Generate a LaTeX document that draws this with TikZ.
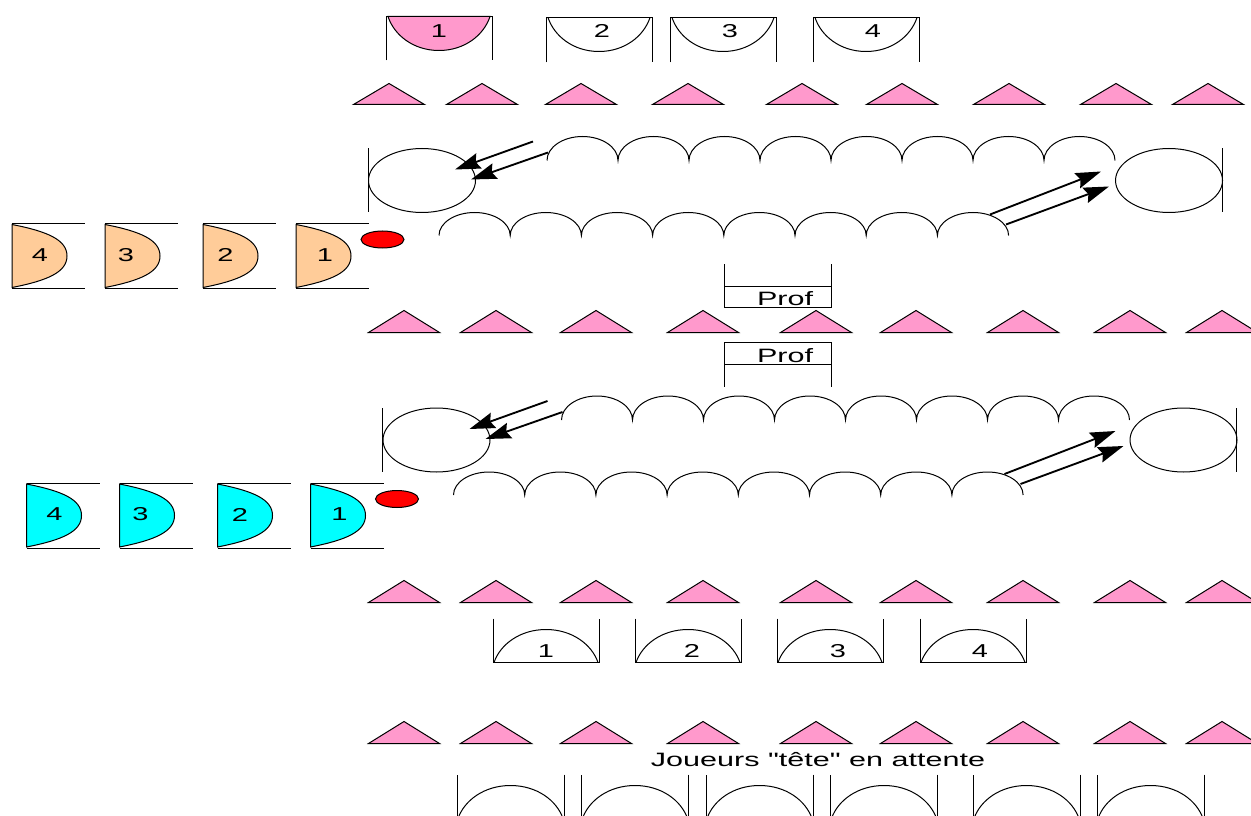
\documentclass[tikz,border=0pt]{standalone}
\usepackage{fontspec}
\newfontfamily\labelfont{Liberation Sans}
\usetikzlibrary{arrows.meta}
\definecolor{mpink}{RGB}{255,153,204}
\definecolor{morange}{RGB}{255,204,153}
\definecolor{mcyan}{RGB}{0,255,255}
\begin{document}
\begin{tikzpicture}[x=.75pt, y=-.75pt, line width=.75pt,
    cone/.style={draw, fill=mpink},
    seat/.style={draw},
    bowl/.style 2 args={insert path={.. controls +(.12*#1,.55*#2) and +(-.5*#1,0) .. ++(#1,#2) .. controls +(.5*#1,0) and +(-.12*#1,.55*#2) .. ++(#1,-#2)}},
    digit/.style={font=\labelfont\fontsize{14}{16}\selectfont, xscale=1.55, transform shape, inner sep=0pt},
    caption/.style={font=\labelfont\fontsize{14.5}{16}\selectfont, xscale=1.58, transform shape, inner sep=0pt},
    arrow_run/.style={-{Stealth[length=19pt, width=12pt, inset=2.5pt]}, line width=1.4pt},
]
\clip[use as bounding box] (0,-.5) rectangle (1251,815.5);

% cones
\foreach \xc in {389,482,581,688,802,902,1009,1116,1208}
    \draw[cone] (\xc-35.5,104) -- (\xc,83) -- (\xc+35.5,104) -- cycle;
\foreach \yc in {332,602,743}
    \foreach \xc in {404,496,596,703,816,916,1023,1130,1222}
        \draw[cone] (\xc-35.5,\yc) -- (\xc,\yc-22) -- (\xc+35.5,\yc) -- cycle;

% waiting players at the top
\draw[seat] (386,60) -- (386,16) -- (492,16) -- (492,60);
\draw[seat, fill=mpink] (388,16) [bowl={51}{34}] -- cycle;
\node[digit] (top1) at (439,30.5) {1};
\foreach \xs/\num/\xn in {546/2/602, 670/3/730, 813/4/873} {
    \draw[seat] (\xs,62) -- (\xs,17) -- (\xs+106,17) -- (\xs+106,62);
    \draw[seat] (\xs+2,17) [bowl={51}{34}];
    \node[digit] (top\num) at (\xn,30.5) {\num};
}

% both courts
\foreach \sx/\sy/\col/\court in {0/0/morange/a, 14.5/259.5/mcyan/b} {
\begin{scope}[shift={(\sx,\sy)}]
    \draw[seat] (368,148) -- (368,212);
    \draw[seat] (422,180) ellipse[x radius=53.5, y radius=32];
    \draw[seat] (1222,148) -- (1222,212);
    \draw[seat] (1169,180) ellipse[x radius=53.5, y radius=32];
    \draw[seat] (547,160) foreach \i in {1,...,8} {arc[start angle=180, end angle=360, x radius=35.5, y radius=24]};
    \draw[seat] (439,235) foreach \i in {1,...,8} {arc[start angle=180, end angle=360, x radius=35.6, y radius=23]};
    \draw[fill=red] (382.5,239) ellipse[x radius=21.5, y radius=8.5];

    \coordinate (start1\court) at (533,141);
    \coordinate (goal1\court) at (455,169);
    \coordinate (start2\court) at (548,152);
    \coordinate (goal2\court) at (471,179);
    \coordinate (start3\court) at (990,214);
    \coordinate (goal3\court) at (1101,171);
    \coordinate (start4\court) at (1006,224);
    \coordinate (goal4\court) at (1109,186);
    \foreach \n in {1,2,3,4}
        \draw[arrow_run] (start\n\court) -- (goal\n\court);

    \foreach \xs/\num/\xn in {12/4/40, 105/3/126, 203/2/225.5, 296/1/325} {
        \draw[seat] (\xs,223) -- (\xs+73,223);
        \draw[seat] (\xs,288) -- (\xs+73,288);
        \draw[seat, fill=\col] (\xs,224) .. controls +(36,7) and +(0,-16) .. ++(55,31.5) .. controls +(0,16) and +(36,-7) .. ++(-55,31.5) -- cycle;
        \node[digit] (queue\court\num) at (\xn,254.5) {\num};
    }
\end{scope}
}

% the two teachers
\draw[seat] (724,264) -- (724,307) -- (831,307) -- (831,264);
\draw[seat] (724,286) -- (831,286);
\node[caption] (profa) at (785,298) {Prof};
\draw[seat] (724,386) -- (724,342) -- (831,342) -- (831,386);
\draw[seat] (724,364) -- (831,364);
\node[caption] (profb) at (785,355) {Prof};

% players back from the courts
\foreach \xs/\num/\xn in {493/1/546, 635/2/692, 777/3/838, 920/4/980} {
    \draw[seat] (\xs,618) -- (\xs,662) -- (\xs+106,662) -- (\xs+106,618);
    \draw[seat] (\xs+1,662) [bowl={52}{-33}];
    \node[digit] (low\num) at (\xn,650.5) {\num};
}

\node[caption] (waiting) at (818,759) {Joueurs "tête" en attente};
\foreach \xs in {457,581.5,706,830.5,973,1097} {
    \draw[seat] (\xs,816) -- (\xs,774);
    \draw[seat] (\xs+107,774) -- (\xs+107,816);
    \draw[seat] (\xs+1,818) [bowl={52.5}{-33}];
}
\end{tikzpicture}
\end{document}
